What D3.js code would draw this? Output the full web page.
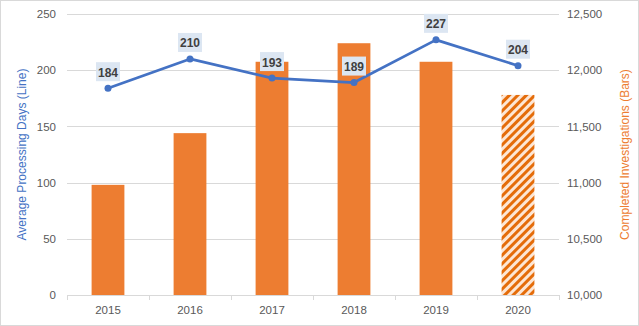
<!DOCTYPE html>
<html><head><meta charset="utf-8">
<script src="https://cdn.jsdelivr.net/npm/d3@7"></script>
<style>body{margin:0;background:#fff}svg{display:block}text{font-family:"Liberation Sans",Arial,sans-serif}</style>
</head><body>
<svg id="c" width="639" height="326"></svg>
<script>
const years = ["2015","2016","2017","2018","2019","2020"];
const processingDays = [184,210,193,189,227,204];
const investigations = [10980,11440,12075,12240,12075,11780];
const projected = [false,false,false,false,false,true];
const leftTicks = [0,50,100,150,200,250];
const rightTicks = [10000,10500,11000,11500,12000,12500];

const svg = d3.select("#c");
const W=639,H=326;
const m={l:67,r:80,t:14,b:31};
const x=d3.scaleBand().domain(years).range([m.l,W-m.r]).paddingInner(0.6).paddingOuter(0.3);
const xb=d3.scaleBand().domain(years).range([m.l,W-m.r]);
const yL=d3.scaleLinear().domain([0,250]).range([H-m.b,m.t]);
const yR=d3.scaleLinear().domain([10000,12500]).range([H-m.b,m.t]);

svg.append("rect").attr("x",0.5).attr("y",0.5).attr("width",W-1).attr("height",H-1).attr("fill","#fff").attr("stroke","#d9d9d9");

const defs=svg.append("defs");
const pat=defs.append("pattern").attr("id","hatch").attr("patternUnits","userSpaceOnUse").attr("width",6).attr("height",6).attr("patternTransform","rotate(45)");
pat.append("rect").attr("width",6).attr("height",6).attr("fill","#fde6d4");
pat.append("rect").attr("width",3).attr("height",6).attr("fill","#e46c0a");

// gridlines
svg.append("g").selectAll("line").data(leftTicks.filter(d=>d>0)).join("line")
 .attr("x1",m.l).attr("x2",W-m.r).attr("y1",d=>Math.round(yL(d))+0.5).attr("y2",d=>Math.round(yL(d))+0.5)
 .attr("stroke","#d9d9d9").attr("stroke-width",1);

// left axis labels
const gl=svg.append("g").attr("transform",`translate(${m.l-11},0)`).call(d3.axisLeft(yL).tickValues(leftTicks).tickSize(0).tickPadding(0));
gl.select(".domain").remove();
gl.selectAll("text").attr("fill","#595959").style("font-size","11.5px");

const gr=svg.append("g").attr("transform",`translate(${W-m.r+8},0)`).call(d3.axisRight(yR).tickValues(rightTicks).tickSize(0).tickPadding(0).tickFormat(d3.format(",")));
gr.select(".domain").remove();
gr.selectAll("text").attr("fill","#595959").style("font-size","11.5px");

// bars
svg.append("g").selectAll("rect").data(years).join("rect")
 .attr("x",d=>x(d)).attr("width",x.bandwidth())
 .attr("y",(d,i)=>yR(investigations[i])).attr("height",(d,i)=>yR(10000)-yR(investigations[i]))
 .attr("fill",(d,i)=>projected[i]?"url(#hatch)":"#ed7d31");

// x axis
const gx=svg.append("g").attr("transform",`translate(0,${H-m.b})`);
gx.append("line").attr("x1",m.l).attr("x2",W-m.r).attr("y1",0.5).attr("y2",0.5).attr("stroke","#d9d9d9");
gx.selectAll(".tk").data(years.map(d=>xb(d)).concat([W-m.r])).join("line")
 .attr("x1",d=>Math.round(d)+0.5).attr("x2",d=>Math.round(d)+0.5).attr("y1",0).attr("y2",5).attr("stroke","#d9d9d9");
gx.selectAll("text").data(years).join("text")
 .attr("x",d=>xb(d)+xb.bandwidth()/2).attr("y",19).attr("text-anchor","middle")
 .attr("fill","#595959").style("font-size","11.5px").text(d=>d);

// line
const cx=d=>xb(d)+xb.bandwidth()/2;
const line=d3.line().x((d,i)=>cx(years[i])).y(d=>yL(d));
svg.append("path").datum(processingDays).attr("d",line).attr("fill","none").attr("stroke","#4472c4").attr("stroke-width",2.75).attr("stroke-linejoin","round");
svg.append("g").selectAll("circle").data(processingDays).join("circle")
 .attr("cx",(d,i)=>cx(years[i])).attr("cy",d=>yL(d)).attr("r",3.5).attr("fill","#4472c4");

// labels
const lg=svg.append("g").selectAll("g").data(processingDays).join("g")
 .attr("transform",(d,i)=>`translate(${cx(years[i])},${yL(d)-16})`);
lg.append("rect").attr("x",-12).attr("y",-10).attr("width",24).attr("height",19).attr("fill","#dce6f2");
lg.append("text").attr("text-anchor","middle").attr("y",4.5).attr("fill","#404040").style("font-size","12px").style("font-weight","bold").text(d=>d);

// axis titles
svg.append("text").attr("transform",`translate(26,${(m.t+H-m.b)/2}) rotate(-90)`).attr("text-anchor","middle")
 .attr("fill","#4472c4").style("font-size","12px").text("Average Processing Days (Line)");
svg.append("text").attr("transform",`translate(629,${(m.t+H-m.b)/2}) rotate(-90)`).attr("text-anchor","middle")
 .attr("fill","#ed7d31").style("font-size","12px").text("Completed Investigations (Bars)");
</script>
</body></html>
